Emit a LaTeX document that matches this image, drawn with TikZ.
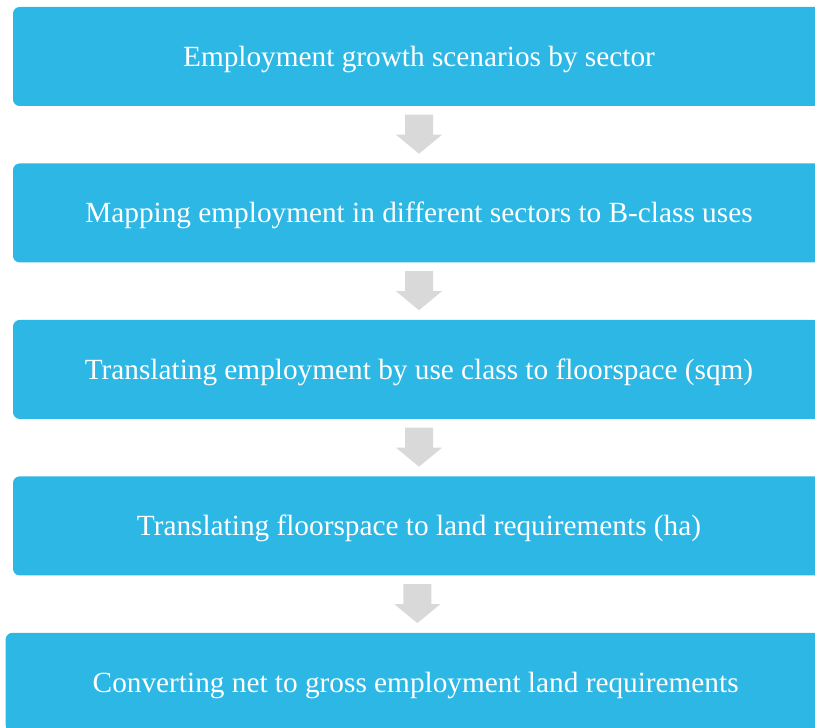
\documentclass[tikz,border=0pt]{standalone}
\usepackage{fontspec}
\setmainfont{Liberation Serif}
\usetikzlibrary{positioning,calc}

\definecolor{stepblue}{RGB}{45,183,229}
\definecolor{arrowgray}{RGB}{217,217,217}

\tikzset{stepbox/.style = {fill=stepblue, rounded corners=0.2cm, text=white,
                           minimum width=24.36cm, minimum height=2.97cm,
                           text height=0.78cm, text depth=0.19cm,
                           font=\fontsize{25}{30}\selectfont}}

\begin{document}
\begin{tikzpicture}[node distance=1.71cm]
	\useasboundingbox (0,0) rectangle (24.45,21.81);
	\clip (0,0) rectangle (24.45,21.81);
\node [stepbox] (growth) at (12.57,20.115) {Employment growth scenarios by sector};
\node [stepbox, below=of growth] (mapping) {Mapping employment in different sectors to B-class uses};
\node [stepbox, below=of mapping] (floorspace) {Translating employment by use class to floorspace (sqm)};
\node [stepbox, below=of floorspace] (land) {Translating floorspace to land requirements (ha)};
\node [stepbox, below=of land, xshift=-0.1cm, minimum width=24.6cm] (gross) {Converting net to gross employment land requirements};
% block arrows between the steps
\foreach \a/\b in {growth/mapping, mapping/floorspace, floorspace/land, land/gross}
	\fill [arrowgray] ($(\a.south)!0.5!(\b.north)$) ++(-0.42,0.6) -- ++(0.84,0) -- ++(0,-0.6) -- ++(0.27,0)
		-- ++(-0.69,-0.57) -- ++(-0.69,0.57) -- ++(0.27,0) -- cycle;
\end{tikzpicture}
\end{document}
